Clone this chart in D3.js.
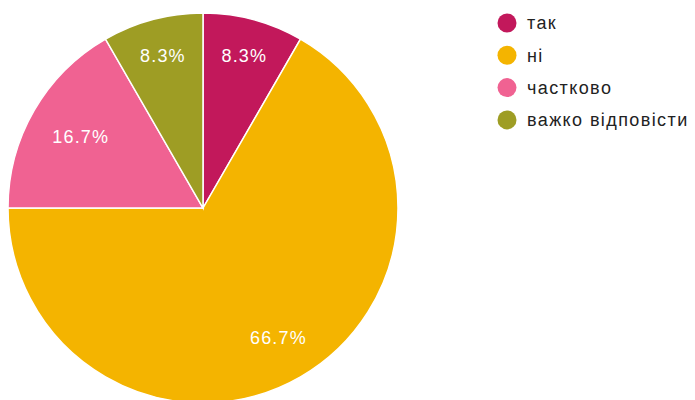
<!DOCTYPE html>
<html>
<head>
<meta charset="utf-8">
<script src="https://cdn.jsdelivr.net/npm/d3@7"></script>
<style>
  html, body { margin: 0; padding: 0; background: #fff; }
  svg { display: block; font-family: "Liberation Sans", Arial, sans-serif; }
</style>
</head>
<body>
<svg id="chart" width="695" height="400"></svg>
<script>
const categories = ["так", "ні", "частково", "важко відповісти"];
const counts = [1, 8, 2, 1];
const colors = ["#c2185b", "#f4b400", "#f06292", "#9e9d24"];

const svg = d3.select("#chart");
const cx = 203, cy = 208, R = 195;

const data = categories.map((c, i) => ({ name: c, value: counts[i], color: colors[i] }));
const total = d3.sum(counts);

const pie = d3.pie().value(d => d.value).sort(null);
const arc = d3.arc().innerRadius(0).outerRadius(R);

const g = svg.append("g").attr("transform", `translate(${cx},${cy})`);
const arcs = pie(data);

g.selectAll("path.slice")
  .data(arcs)
  .join("path")
  .attr("class", "slice")
  .attr("d", arc)
  .attr("fill", d => d.data.color)
  .attr("stroke", "#fff")
  .attr("stroke-width", 1.5);

// Percentage labels: the label box is pushed outward until its outer edge
// reaches a fixed fraction of the radius.
const fmt = d3.format(".1f");
const labels = g.selectAll("text.pct")
  .data(arcs)
  .join("text")
  .attr("class", "pct")
  .attr("text-anchor", "middle")
  .attr("dy", "0.35em")
  .attr("fill", "#fff")
  .style("font-size", "18px")
  .style("letter-spacing", "1.2px")
  .text(d => fmt(d.value / total * 100) + "%");

labels.each(function(d) {
  const bb = this.getBBox();
  const hw = bb.width / 2, hh = 7;
  const a = (d.startAngle + d.endAngle) / 2;
  const ux = Math.sin(a), uy = -Math.cos(a);
  const r = R * 0.872 - (hw * Math.abs(ux) + hh * Math.abs(uy));
  d3.select(this).attr("transform", `translate(${r * ux + 0.6},${r * uy})`);
});

// Legend
const legend = svg.append("g").attr("transform", "translate(507,23)");
const items = legend.selectAll("g.item")
  .data(data)
  .join("g")
  .attr("class", "item")
  .attr("transform", (d, i) => `translate(0,${i * 32.3})`);

items.append("circle")
  .attr("r", 9.5)
  .attr("fill", d => d.color);

items.append("text")
  .attr("x", 20)
  .attr("dy", "0.35em")
  .attr("fill", "#222")
  .style("font-size", "18px")
  .style("letter-spacing", "1.4px")
  .text(d => d.name);
</script>
</body>
</html>
